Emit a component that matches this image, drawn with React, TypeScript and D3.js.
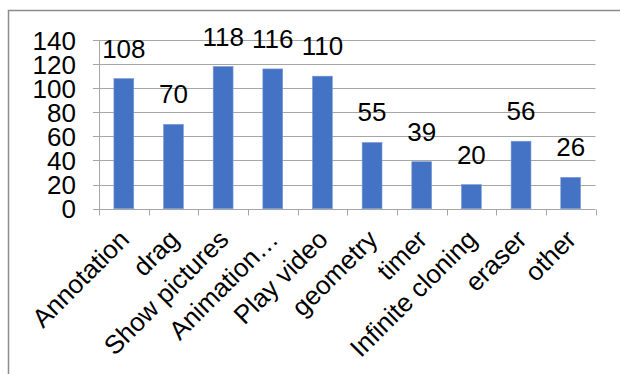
import React from 'react';
import * as d3 from 'd3';

const categories = [
  'Annotation',
  'drag',
  'Show pictures',
  'Animation…',
  'Play video',
  'geometry',
  'timer',
  'Infinite cloning',
  'eraser',
  'other',
];
const counts = [108, 70, 118, 116, 110, 55, 39, 20, 56, 26];
const yTicks = [0, 20, 40, 60, 80, 100, 120, 140];

const FONT = '"Liberation Sans", Arial, sans-serif';

export default function App() {
  const width = 620;
  const height = 374;
  const plot = { left: 99, right: 595.5, top: 40, bottom: 208.7 };

  const x = d3.scaleBand<string>()
    .domain(categories)
    .range([plot.left, plot.right])
    .padding(0);

  const y = d3.scaleLinear()
    .domain([0, 140])
    .range([plot.bottom, plot.top]);

  const barW = x.bandwidth() * 0.4;
  const crisp = (v: number) => Math.round(v) + 0.5;

  // category boundaries for the tick marks
  const boundaries = categories.map(c => x(c) as number).concat([plot.right]);

  return (
    <svg
      width={width}
      height={height}
      style={{ position: 'absolute', left: 0, top: 0, background: '#fff' }}
      fontFamily={FONT}
    >
      {/* chart area border (right and bottom run off the page) */}
      <rect x={8.5} y={10.5} width={700} height={500} fill="#fff" stroke="#8c8c8c" strokeWidth={1.5} />

      {/* grid lines */}
      {yTicks.map(t => (
        <line
          key={'g' + t}
          x1={plot.left}
          x2={plot.right}
          y1={crisp(y(t))}
          y2={crisp(y(t))}
          stroke="#a6a6a6"
          strokeWidth={1}
        />
      ))}

      {/* y axis */}
      <line x1={crisp(plot.left)} x2={crisp(plot.left)} y1={crisp(y(140))} y2={crisp(y(0))} stroke="#a6a6a6" />
      {yTicks.map(t => (
        <line
          key={'yt' + t}
          x1={plot.left - 6}
          x2={plot.left}
          y1={crisp(y(t))}
          y2={crisp(y(t))}
          stroke="#a6a6a6"
        />
      ))}
      {yTicks.map(t => (
        <text key={'yl' + t} x={76} y={y(t) + 9.5} textAnchor="end" fontSize={26} fill="#000">
          {t}
        </text>
      ))}

      {/* x axis ticks */}
      {boundaries.map((b, i) => (
        <line
          key={'xt' + i}
          x1={crisp(b)}
          x2={crisp(b)}
          y1={crisp(y(0))}
          y2={crisp(y(0)) + 6}
          stroke="#a6a6a6"
        />
      ))}

      {/* bars */}
      {categories.map((c, i) => {
        const cx = (x(c) as number) + x.bandwidth() / 2;
        return (
          <rect
            key={'b' + c}
            x={cx - barW / 2}
            y={y(counts[i])}
            width={barW}
            height={y(0) - y(counts[i])}
            fill="#4472c4"
            stroke="#7d9bd6"
            strokeWidth={0.6}
          />
        );
      })}

      {/* data labels */}
      {categories.map((c, i) => {
        const cx = (x(c) as number) + x.bandwidth() / 2;
        return (
          <text key={'dl' + c} x={cx} y={y(counts[i]) - 21} textAnchor="middle" fontSize={26} fill="#000">
            {counts[i]}
          </text>
        );
      })}

      {/* category labels */}
      {categories.map(c => {
        const cx = (x(c) as number) + x.bandwidth() / 2;
        return (
          <text
            key={'cl' + c}
            transform={`translate(${cx + 7},241) rotate(-45)`}
            textAnchor="end"
            fontSize={26}
            fill="#000"
          >
            {c}
          </text>
        );
      })}
    </svg>
  );
}
